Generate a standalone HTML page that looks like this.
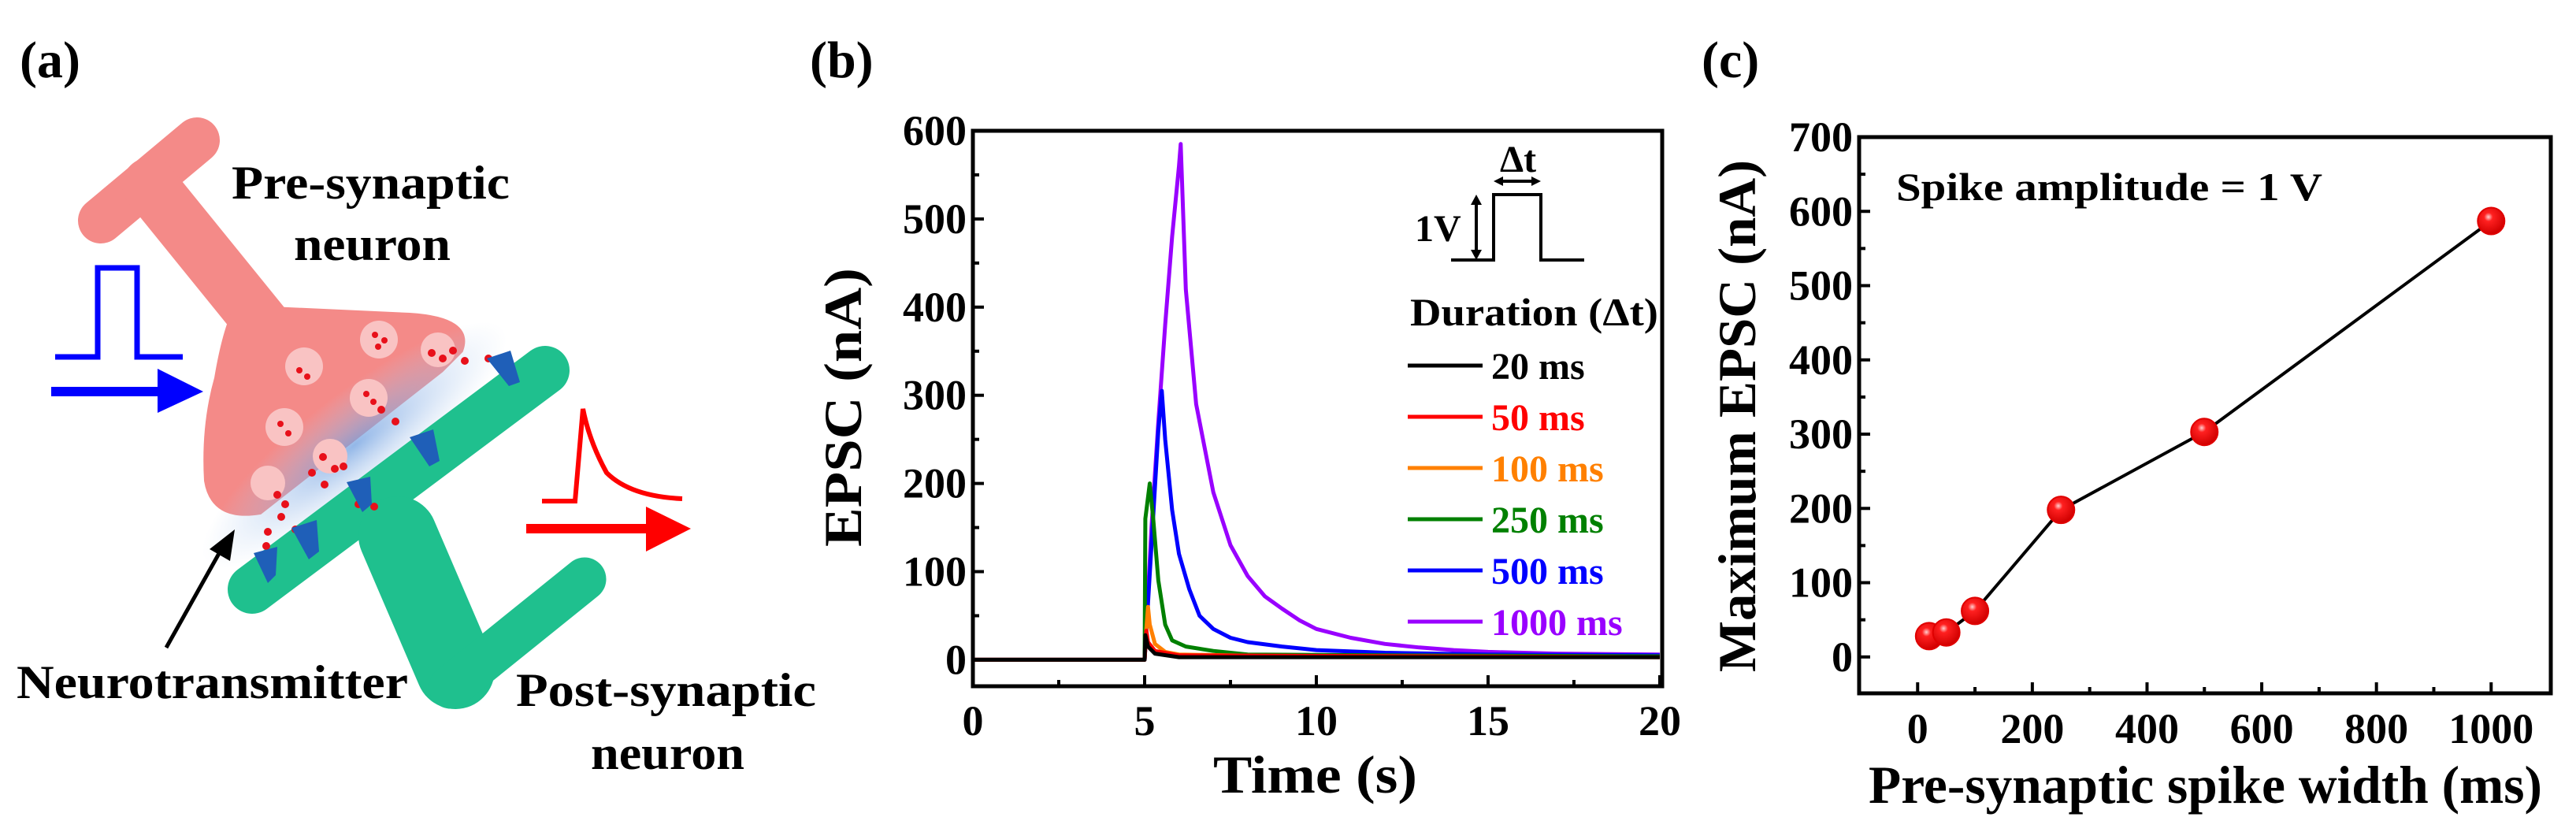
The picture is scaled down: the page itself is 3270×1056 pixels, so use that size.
<!DOCTYPE html>
<html><head><meta charset="utf-8"><style>
html,body{margin:0;padding:0;background:#fff}
svg{display:block;font-family:"Liberation Serif",serif;font-weight:bold}
</style></head><body>
<svg id="fig" width="3270" height="1056" viewBox="0 0 3270 1056" xmlns="http://www.w3.org/2000/svg">
<defs>
<radialGradient id="glow" cx="50%" cy="50%" r="50%"><stop offset="0" stop-color="#6f9fe0" stop-opacity="0.75"/><stop offset="1" stop-color="#b8d0f0" stop-opacity="0"/></radialGradient>
<radialGradient id="ball" cx="40%" cy="35%" r="65%"><stop offset="0" stop-color="#ffd0d0"/><stop offset="0.25" stop-color="#ff2020"/><stop offset="1" stop-color="#d00000"/></radialGradient>
</defs>
<text x="25" y="98" font-size="66">(a)</text>
<text x="1028" y="98" font-size="66">(b)</text>
<text x="2160" y="98" font-size="66">(c)</text>

<g>
  <g fill="#f48a88" stroke="#f48a88">
    <line x1="128" y1="280" x2="250" y2="178" stroke-width="58" stroke-linecap="round"/>
    <line x1="190" y1="235" x2="340" y2="420" stroke-width="70" stroke-linecap="round"/>
    <path d="M300 390 Q420 395 520 400 Q600 405 585 445 L560 470 L330 650 Q270 660 262 610 Q258 540 275 480 Q285 420 300 390 Z" stroke-width="6"/>
  </g>
  <ellipse cx="450" cy="565" rx="240" ry="65" transform="rotate(-38 450 565)" fill="url(#glow)"/>
  <g fill="none" stroke="#1fc08e" stroke-linecap="round">
    <line x1="320" y1="748" x2="692" y2="470" stroke-width="62"/>
    <line x1="505" y1="680" x2="578" y2="850" stroke-width="100"/>
    <line x1="572" y1="872" x2="742" y2="735" stroke-width="55"/>
  </g>
  <g fill="#f9c3c3">
    <circle cx="386" cy="465" r="24"/><circle cx="481" cy="431" r="24"/><circle cx="556" cy="444" r="22"/>
    <circle cx="468" cy="505" r="24"/><circle cx="361" cy="542" r="24"/><circle cx="340" cy="613" r="22"/><circle cx="419" cy="579" r="22"/>
  </g>
  <g fill="#e8101a">
    <circle cx="380" cy="470" r="4"/><circle cx="390" cy="478" r="4"/><circle cx="476" cy="425" r="4"/><circle cx="488" cy="432" r="4"/><circle cx="480" cy="440" r="4"/>
    <circle cx="465" cy="500" r="4"/><circle cx="474" cy="510" r="4"/><circle cx="356" cy="538" r="4"/><circle cx="366" cy="550" r="4"/>
    <circle cx="548" cy="448" r="5"/><circle cx="562" cy="455" r="5"/><circle cx="575" cy="445" r="5"/><circle cx="590" cy="458" r="5"/><circle cx="620" cy="455" r="5"/>
    <circle cx="484" cy="520" r="5"/><circle cx="502" cy="535" r="5"/><circle cx="410" cy="580" r="5"/><circle cx="425" cy="595" r="5"/><circle cx="396" cy="600" r="5"/>
    <circle cx="412" cy="615" r="5"/><circle cx="436" cy="592" r="5"/><circle cx="352" cy="628" r="5"/><circle cx="362" cy="640" r="5"/><circle cx="357" cy="656" r="5"/>
    <circle cx="340" cy="675" r="5"/><circle cx="375" cy="672" r="5"/><circle cx="338" cy="693" r="5"/><circle cx="455" cy="640" r="5"/><circle cx="475" cy="643" r="5"/>
  </g>
  <g fill="#1f5fb8">
    <path d="M322 702 L352 694 L350 730 L340 740 Z"/><path d="M370 670 L402 660 L405 700 L392 710 Z"/>
    <path d="M440 612 L470 605 L472 640 L460 650 Z"/><path d="M520 555 L550 545 L558 585 L545 592 Z"/><path d="M618 455 L648 445 L660 485 L646 490 Z"/>
  </g>
  <polyline points="70,453 124,453 124,340 174,340 174,453 232,453" fill="none" stroke="#0000ff" stroke-width="7"/>
  <line x1="65" y1="497" x2="205" y2="497" stroke="#0000ff" stroke-width="12"/>
  <polygon points="200,468 258,497 200,524" fill="#0000ff"/>
  <path d="M688 636 L730 636 L740 519 Q748 560 770 600 Q800 630 866 633" fill="none" stroke="#ff0000" stroke-width="6"/>
  <line x1="668" y1="671" x2="825" y2="671" stroke="#ff0000" stroke-width="12"/>
  <polygon points="820,643 877,671 820,700" fill="#ff0000"/>
  <line x1="211" y1="822" x2="285" y2="690" stroke="#000" stroke-width="5"/>
  <polygon points="298,672 292,712 266,697" fill="#000"/>
  <text x="294" y="252" font-size="60" textLength="353" lengthAdjust="spacingAndGlyphs">Pre-synaptic</text>
  <text x="373" y="330" font-size="60" textLength="199" lengthAdjust="spacingAndGlyphs">neuron</text>
  <text x="21" y="886" font-size="60" textLength="497" lengthAdjust="spacingAndGlyphs">Neurotransmitter</text>
  <text x="655" y="896" font-size="60" textLength="381" lengthAdjust="spacingAndGlyphs">Post-synaptic</text>
  <text x="750" y="976" font-size="60" textLength="195" lengthAdjust="spacingAndGlyphs">neuron</text>
</g>
<g id="chartB"></g>
<g id="chartC"></g>
</svg>
<script>
const bXTicks = [0, 5, 10, 15, 20];
const bYTicks = [0, 100, 200, 300, 400, 500, 600];
const bSeriesNames = ["20 ms", "50 ms", "100 ms", "250 ms", "500 ms", "1000 ms"];
const bSeriesColors = ["#000000", "#ff0000", "#ff8000", "#008000", "#0000ff", "#9900ff"];
const bT20 = [0, 5, 5.02, 5.1, 5.3, 6, 20];
const bV20 = [0, 0, 28, 15, 7, 3, 3];
const bT50 = [0, 5, 5.05, 5.1, 5.3, 6, 20];
const bV50 = [0, 0, 33, 20, 10, 5, 3];
const bT100 = [0, 5, 5.05, 5.1, 5.15, 5.3, 5.6, 6, 9, 20];
const bV100 = [0, 0, 35, 60, 40, 18, 9, 6, 4, 3];
const bT250 = [0, 5, 5.02, 5.15, 5.25, 5.4, 5.6, 5.8, 6.2, 7, 8, 12, 20];
const bV250 = [0, 0, 160, 200, 160, 90, 40, 22, 15, 10, 6, 5, 4];
const bT500 = [0, 5, 5.2, 5.4, 5.5, 5.6, 5.8, 6, 6.3, 6.6, 7, 7.5, 8, 9, 10, 12, 15, 20];
const bV500 = [0, 0, 130, 260, 305, 250, 170, 120, 80, 50, 35, 25, 20, 15, 11, 8, 6, 5];
const bT1000 = [0, 5, 5.2, 5.4, 5.6, 5.8, 6.0, 6.05, 6.2, 6.5, 7, 7.5, 8, 8.5, 9, 9.5, 10, 11, 12, 13, 14, 15, 17, 20];
const bV1000 = [0, 0, 150, 270, 380, 480, 560, 585, 420, 290, 190, 130, 95, 72, 58, 45, 35, 25, 18, 14, 11, 9, 7, 6];
const cWidths = [20, 50, 100, 250, 500, 1000];
const cMaxEPSC = [28, 33, 62, 198, 303, 587];
const cXTicks = [0, 200, 400, 600, 800, 1000];
const cYTicks = [0, 100, 200, 300, 400, 500, 600, 700];

const NS = "http://www.w3.org/2000/svg";
function mk(parent, tag, attrs, text) {
  const e = document.createElementNS(NS, tag);
  for (const k in attrs) e.setAttribute(k, attrs[k]);
  if (text !== undefined) e.textContent = text;
  parent.appendChild(e);
  return e;
}

(function () {
  const g = document.getElementById('chartB');
  const L = 1235, R = 2110, T = 166, B = 871;
  const xMin = 0, xMax = 20.07, yMin = -30, yMax = 600;
  const sx = v => L + (v - xMin) / (xMax - xMin) * (R - L);
  const sy = v => B - (v - yMin) / (yMax - yMin) * (B - T);
  const series = [[bT20, bV20], [bT50, bV50], [bT100, bV100], [bT250, bV250], [bT500, bV500], [bT1000, bV1000]];
  for (let i = series.length - 1; i >= 0; i--) {
    const [ts, vs] = series[i];
    const pts = ts.map((t, j) => sx(t).toFixed(1) + ',' + sy(vs[j]).toFixed(1)).join(' ');
    const pl = mk(g, 'polyline', { points: pts, fill: 'none', stroke: bSeriesColors[i], 'stroke-width': 5, 'stroke-linejoin': 'round' });
    
    
  }
  const fr = mk(g, 'rect', { x: L, y: T, width: R - L, height: B - T, fill: 'none', stroke: '#000', 'stroke-width': 5 });
  
  
  bYTicks.forEach(v => {
    mk(g, 'line', { x1: L, x2: L + 14, y1: sy(v), y2: sy(v), stroke: '#000', 'stroke-width': 4 });
    if (v < 600) mk(g, 'line', { x1: L, x2: L + 8, y1: sy(v + 50), y2: sy(v + 50), stroke: '#000', 'stroke-width': 4 });
    const t = mk(g, 'text', { x: L - 8, y: sy(v) + 18, 'font-size': 54, 'text-anchor': 'end' }, String(v));
    
    
  });
  bXTicks.forEach(v => {
    mk(g, 'line', { x1: sx(v), x2: sx(v), y1: B, y2: B - 14, stroke: '#000', 'stroke-width': 4 });
    if (v < 20) mk(g, 'line', { x1: sx(v + 2.5), x2: sx(v + 2.5), y1: B, y2: B - 8, stroke: '#000', 'stroke-width': 4 });
    const t = mk(g, 'text', { x: sx(v), y: 933, 'font-size': 54, 'text-anchor': 'middle' }, String(v));
    
    
  });
  const xt = mk(g, 'text', { x: 1540, y: 1006, 'font-size': 68, textLength: 259, lengthAdjust: 'spacingAndGlyphs' }, 'Time (s)');
  
  
  const yt = mk(g, 'text', { x: 0, y: 0, 'font-size': 68, 'text-anchor': 'middle', textLength: 354, lengthAdjust: 'spacingAndGlyphs', transform: 'translate(1093,517) rotate(-90)' }, 'EPSC (nA)');
  
  
  const ins = mk(g, 'g', {});
  
  
  mk(ins, 'polyline', { points: '1842,330 1896,330 1896,247 1956,247 1956,330 2011,330', fill: 'none', stroke: '#000', 'stroke-width': 4 });
  mk(ins, 'line', { x1: 1874, x2: 1874, y1: 255, y2: 322, stroke: '#000', 'stroke-width': 4 });
  mk(ins, 'polygon', { points: '1874,247 1867,260 1881,260', fill: '#000' });
  mk(ins, 'polygon', { points: '1874,330 1867,317 1881,317', fill: '#000' });
  mk(ins, 'line', { x1: 1904, x2: 1948, y1: 230, y2: 230, stroke: '#000', 'stroke-width': 4 });
  mk(ins, 'polygon', { points: '1896,230 1908,224 1908,236', fill: '#000' });
  mk(ins, 'polygon', { points: '1956,230 1944,224 1944,236', fill: '#000' });
  mk(ins, 'text', { x: 1796, y: 306, 'font-size': 48 }, '1V');
  mk(ins, 'text', { x: 1904, y: 218, 'font-size': 48 }, 'Δt');
  const lt = mk(g, 'text', { x: 1790, y: 413, 'font-size': 50, textLength: 315, lengthAdjust: 'spacingAndGlyphs' }, 'Duration (Δt)');
  
  
  bSeriesNames.forEach((n, i) => {
    const y = 464 + i * 65;
    const le = mk(g, 'g', {});
    
    
    mk(le, 'line', { x1: 1787, x2: 1882, y1: y, y2: y, stroke: bSeriesColors[i], 'stroke-width': 5 });
    mk(le, 'text', { x: 1893, y: y + 17, 'font-size': 48, fill: bSeriesColors[i] }, n);
  });
})();

(function () {
  const g = document.getElementById('chartC');
  const L = 2360, R = 3238, T = 174, B = 880;
  const xMin = -102, xMax = 1104, yMin = -49, yMax = 700;
  const sx = v => L + (v - xMin) / (xMax - xMin) * (R - L);
  const sy = v => B - (v - yMin) / (yMax - yMin) * (B - T);
  const pts = cWidths.map((w, i) => sx(w).toFixed(1) + ',' + sy(cMaxEPSC[i]).toFixed(1)).join(' ');
  const ln = mk(g, 'polyline', { points: pts, fill: 'none', stroke: '#000', 'stroke-width': 4 });
  
  
  cWidths.forEach((w, i) => {
    const c = mk(g, 'ellipse', { cx: sx(w), cy: sy(cMaxEPSC[i]), rx: 17, ry: 17, fill: 'url(#ball)', stroke: '#e00000', 'stroke-width': 2 });
    
    
  });
  const fr = mk(g, 'rect', { x: L, y: T, width: R - L, height: B - T, fill: 'none', stroke: '#000', 'stroke-width': 5 });
  
  
  cYTicks.forEach(v => {
    mk(g, 'line', { x1: L, x2: L + 14, y1: sy(v), y2: sy(v), stroke: '#000', 'stroke-width': 4 });
    if (v < 700) mk(g, 'line', { x1: L, x2: L + 8, y1: sy(v + 50), y2: sy(v + 50), stroke: '#000', 'stroke-width': 4 });
    const t = mk(g, 'text', { x: L - 8, y: sy(v) + 18, 'font-size': 54, 'text-anchor': 'end' }, String(v));
    
    
  });
  cXTicks.forEach(v => {
    mk(g, 'line', { x1: sx(v), x2: sx(v), y1: B, y2: B - 14, stroke: '#000', 'stroke-width': 4 });
    if (v < 1000) mk(g, 'line', { x1: sx(v + 100), x2: sx(v + 100), y1: B, y2: B - 8, stroke: '#000', 'stroke-width': 4 });
    const t = mk(g, 'text', { x: sx(v), y: 943, 'font-size': 54, 'text-anchor': 'middle' }, String(v));
    
    
  });
  const xt = mk(g, 'text', { x: 2372, y: 1019, 'font-size': 68, textLength: 855, lengthAdjust: 'spacingAndGlyphs' }, 'Pre-synaptic spike width (ms)');
  
  
  const yt = mk(g, 'text', { x: 0, y: 0, 'font-size': 68, 'text-anchor': 'middle', textLength: 650, lengthAdjust: 'spacingAndGlyphs', transform: 'translate(2228,528) rotate(-90)' }, 'Maximum EPSC (nA)');
  
  
  const an = mk(g, 'text', { x: 2407, y: 254, 'font-size': 50, textLength: 541, lengthAdjust: 'spacingAndGlyphs' }, 'Spike amplitude = 1 V');
  
  
})();
</script>
</body></html>
